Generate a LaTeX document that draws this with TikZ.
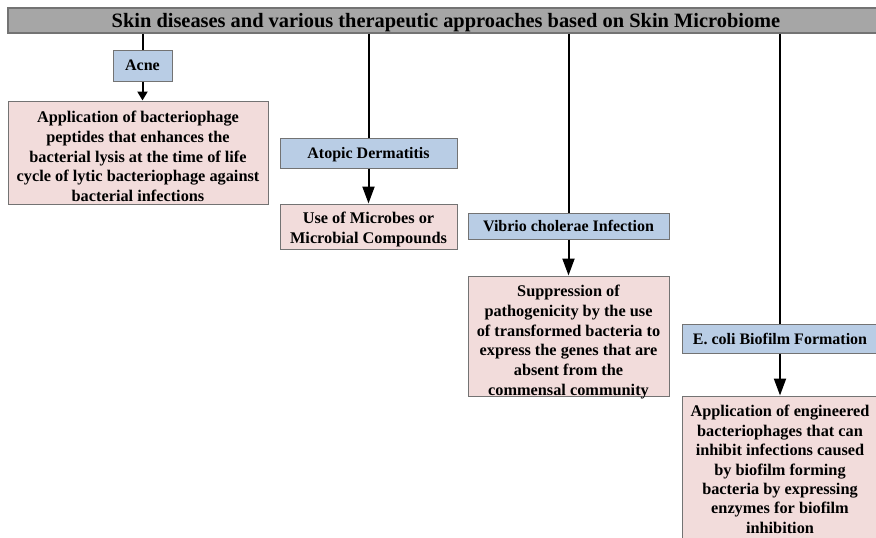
\documentclass[tikz,border=0pt]{standalone}
\usepackage{fontspec}
\setmainfont{Liberation Serif}
\usetikzlibrary{arrows.meta}
\definecolor{headgray}{RGB}{166,166,166}
\definecolor{diseaseblue}{RGB}{185,205,229}
\definecolor{therapypink}{RGB}{242,220,219}
\definecolor{edgegray}{RGB}{115,115,115}
\begin{document}
\begin{tikzpicture}[x=1pt,y=-1pt,
  header/.style={draw=edgegray,line width=1.2pt,fill=headgray,inner sep=0pt,
    font=\fontsize{20.4}{24}\selectfont\bfseries},
  disease/.style={draw=edgegray,line width=1pt,fill=diseaseblue,inner sep=0pt,
    font=\fontsize{16}{20}\selectfont\bfseries},
  therapy/.style={draw=edgegray,line width=1pt,fill=therapypink,inner sep=0pt},
  therapytext/.style={inner sep=0pt,align=center,
    font=\fontsize{16.3}{19.8}\selectfont\bfseries},
  trunk/.style={line width=2pt,black},
  feed/.style={line width=2pt,black,-{Triangle[width=12pt,length=17pt]}},
  feedsmall/.style={line width=2pt,black,-{Triangle[width=10pt,length=9pt]}}]
\useasboundingbox (0,0) rectangle (876,538);
\clip (0,0) rectangle (876,538);

% header bar
\node[header,minimum width=876pt,minimum height=25pt,text depth=1pt] (title) at (446,20.5)
  {Skin diseases and various therapeutic approaches based on Skin Microbiome};

% disease boxes
\node[disease,minimum width=59pt,minimum height=31pt,text depth=0pt] (acne) at (142.5,65.5) {Acne};
\node[disease,minimum width=177pt,minimum height=30pt,text depth=0pt] (atopic) at (368.5,153) {Atopic Dermatitis};
\node[disease,minimum width=201pt,minimum height=26pt,text depth=0pt] (vibrio) at (568.5,226) {Vibrio cholerae Infection};
\node[disease,minimum width=196pt,minimum height=29pt,text depth=0pt] (ecoli) at (780,338.5) {E. coli Biofilm Formation};

% therapy boxes
\node[therapy,minimum width=260pt,minimum height=103pt] (t1) at (138,152.5) {};
\node[therapy,minimum width=177pt,minimum height=45pt] (t2) at (368.5,226.5) {};
\node[therapy,minimum width=201pt,minimum height=120pt] (t3) at (568.5,336) {};
\node[therapy,minimum width=196pt,minimum height=150pt] (t4) at (780,471) {};

% therapy texts
\node[therapytext] (t1text) at ([yshift=-4pt]t1.center)
  {Application of bacteriophage\\peptides that enhances the\\bacterial lysis at the time of life\\cycle of lytic bacteriophage against\\bacterial infections};
\node[therapytext] (t2text) at ([yshift=-3pt]t2.center)
  {Use of Microbes or\\Microbial Compounds};
\node[therapytext] (t3text) at ([yshift=-6pt]t3.center)
  {Suppression of\\pathogenicity by the use\\of transformed bacteria to\\express the genes that are\\absent from the\\commensal community};
\node[therapytext,font=\fontsize{16.3}{19.4}\selectfont\bfseries] (t4text) at ([yshift=1.5pt]t4.center)
  {Application of engineered\\bacteriophages that can\\inhibit infections caused\\by biofilm forming\\bacteria by expressing\\enzymes for biofilm\\inhibition};

% connectors from the header
\draw[trunk] (title.south -| acne.north) -- (acne.north);
\draw[trunk] (title.south -| atopic.north) -- (atopic.north);
\draw[trunk] (title.south -| vibrio.north) -- (vibrio.north);
\draw[trunk] (title.south -| ecoli.north) -- (ecoli.north);

% arrows to the therapies
\draw[feedsmall] (acne.south) -- (acne.south |- t1.north);
\draw[feed] (atopic.south) -- (atopic.south |- t2.north);
\draw[feed] (vibrio.south) -- (vibrio.south |- t3.north);
\draw[feed] (ecoli.south) -- (ecoli.south |- t4.north);
\end{tikzpicture}
\end{document}
